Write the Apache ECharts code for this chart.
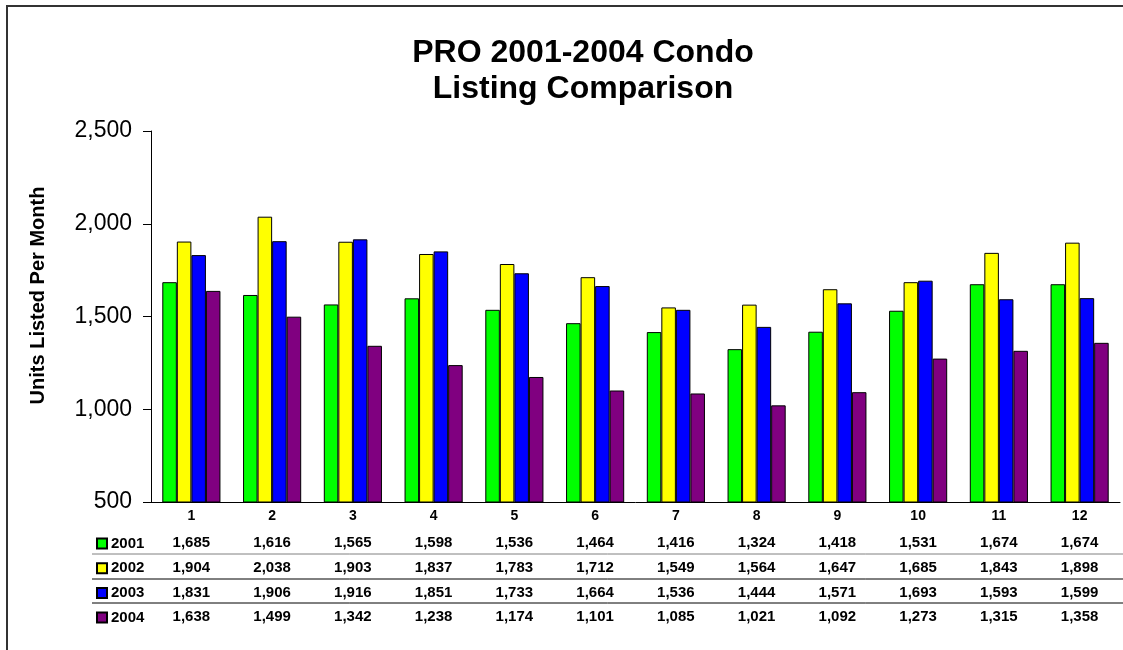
<!DOCTYPE html>
<html>
<head>
<meta charset="utf-8">
<title>PRO 2001-2004 Condo Listing Comparison</title>
<script src="https://cdn.jsdelivr.net/npm/echarts@6/dist/echarts.min.js"></script>
<style>
  html, body { margin: 0; padding: 0; background: #fff; }
  .main { width: 1123px; height: 650px; }
</style>
</head>
<body>
<div class="main"></div>
<script>
var months = ['1', '2', '3', '4', '5', '6', '7', '8', '9', '10', '11', '12'];
var years = ['2001', '2002', '2003', '2004'];
var y2001 = [1685, 1616, 1565, 1598, 1536, 1464, 1416, 1324, 1418, 1531, 1674, 1674];
var y2002 = [1904, 2038, 1903, 1837, 1783, 1712, 1549, 1564, 1647, 1685, 1843, 1898];
var y2003 = [1831, 1906, 1916, 1851, 1733, 1664, 1536, 1444, 1571, 1693, 1593, 1599];
var y2004 = [1638, 1499, 1342, 1238, 1174, 1101, 1085, 1021, 1092, 1273, 1315, 1358];
var colors = ['#00ff00', '#ffff00', '#0000ff', '#800080'];

var font = 'Arial, "Liberation Sans", sans-serif';
var allData = [y2001, y2002, y2003, y2004];
var rowY = [543, 568, 593, 617];   // table rows, pixel centres
var axisBottom = 502;

function fmt(v) {
  return String(v).replace(/\B(?=(\d{3})+(?!\d))/g, ',');
}

var xAxes = [{
  type: 'category',
  data: months,
  axisLine: { lineStyle: { color: '#000', width: 1 } },
  axisTick: { show: false },
  axisLabel: { color: '#000', fontFamily: font, fontWeight: 'bold', fontSize: 14, margin: 7 }
}];
// one extra axis per table row, its labels are the values
allData.forEach(function (arr, k) {
  xAxes.push({
    type: 'category',
    data: months,
    position: 'bottom',
    offset: rowY[k] - axisBottom,
    axisLine: { show: false },
    axisTick: { show: false },
    axisLabel: {
      margin: 0,
      verticalAlign: 'middle',
      color: '#000', fontFamily: font, fontWeight: 'bold', fontSize: 15,
      formatter: function (v, i) { return fmt(arr[i]); }
    }
  });
});

var series = years.map(function (y, k) {
  return {
    name: y,
    type: 'bar',
    data: allData[k],
    barGap: '0%',
    barCategoryGap: '28%',
    itemStyle: { color: colors[k], borderColor: '#000', borderWidth: 1 }
  };
});

var myChart = echarts.init(document.querySelector('.main'));
var option = {
  animation: false,
  backgroundColor: '#fff',
  title: {
    text: 'PRO 2001-2004 Condo\nListing Comparison',
    left: 578,
    top: 30,
    textAlign: 'center',
    textStyle: { fontFamily: font, fontWeight: 'bold', fontSize: 32, lineHeight: 36, color: '#000' }
  },
  legend: {
    data: years,
    orient: 'vertical',
    left: 91,
    top: 531,
    icon: 'rect',
    itemWidth: 10,
    itemHeight: 10,
    itemGap: 9.7,
    textStyle: { fontFamily: font, fontWeight: 'bold', fontSize: 15, lineHeight: 15, color: '#000', padding: [0, 0, 0, -1] }
  },
  grid: { left: 151, top: 131, right: 3, bottom: 148, containLabel: false },
  xAxis: xAxes,
  yAxis: {
    type: 'value',
    min: 500,
    max: 2500,
    interval: 500,
    name: 'Units Listed Per Month',
    nameLocation: 'middle',
    nameGap: 103,
    nameTextStyle: { fontFamily: font, fontWeight: 'bold', fontSize: 20, color: '#000', padding: [0, 0, 0, 42] },
    axisLine: { show: true, lineStyle: { color: '#000', width: 1 } },
    axisTick: { show: true, length: 8, lineStyle: { color: '#000' } },
    splitLine: { show: false },
    axisLabel: { color: '#000', fontFamily: font, fontSize: 23, margin: 19, formatter: fmt }
  },
  graphic: [
    { type: 'rect', shape: { x: 7, y: 6, width: 1200, height: 700 }, style: { fill: 'none', stroke: '#333', lineWidth: 2 }, silent: true },
    { type: 'line', shape: { x1: 92, y1: 554, x2: 1123, y2: 554 }, style: { stroke: '#808080', lineWidth: 1 } },
    { type: 'line', shape: { x1: 92, y1: 579, x2: 1123, y2: 579 }, style: { stroke: '#000', lineWidth: 1 } },
    { type: 'line', shape: { x1: 92, y1: 603, x2: 1123, y2: 603 }, style: { stroke: '#000', lineWidth: 1 } }
  ],
  series: series
};
myChart.setOption(option);
</script>
</body>
</html>
